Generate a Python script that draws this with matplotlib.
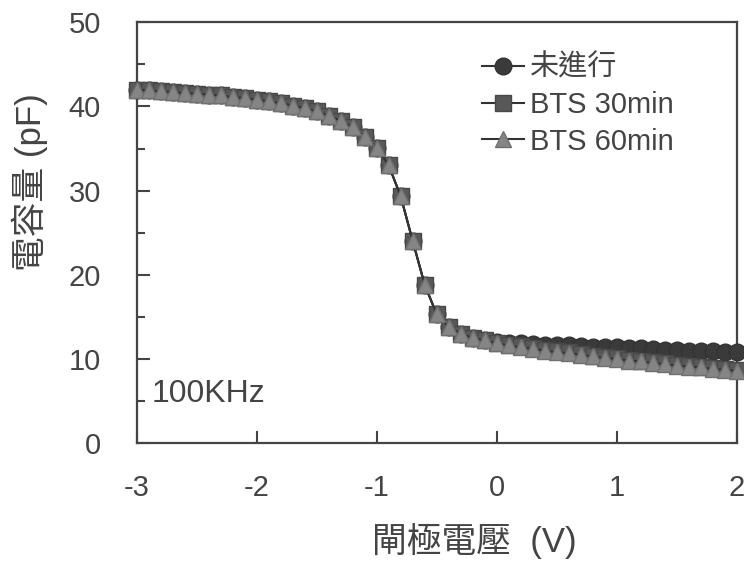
#!/usr/bin/env python3
import matplotlib
matplotlib.use("Agg")
import matplotlib.pyplot as plt
import numpy as np
from matplotlib.ticker import MultipleLocator

plt.rcParams['font.family'] = ['Liberation Sans', 'Noto Sans CJK TC', 'DejaVu Sans']
plt.rcParams['axes.unicode_minus'] = False

# gate voltage (V), 0.1 V step
vg = np.round(np.arange(-3.0, 2.0001, 0.1), 1)

# shared part of the C-V curve, -3.0 .. -0.1 V
c_common = [42.0, 41.9, 41.8, 41.7, 41.6, 41.5, 41.4, 41.3, 41.1, 41.0,
            40.8, 40.6, 40.4, 40.1, 39.8, 39.4, 38.9, 38.3, 37.5, 36.4,
            35.1, 33.0, 29.3, 24.0, 18.8, 15.3, 13.8, 13.0, 12.5, 12.2]

# 0.0 .. 2.0 V
c_fresh_tail = [12.0, 11.9, 11.85, 11.8, 11.7, 11.65, 11.6, 11.5, 11.45, 11.4,
                11.4, 11.3, 11.25, 11.2, 11.1, 11.1, 11.0, 11.0, 10.9, 10.85, 10.8]
c_bts30_tail = [11.9, 11.7, 11.5, 11.3, 11.1, 10.9, 10.8, 10.6, 10.4, 10.2,
                10.1, 9.9, 9.8, 9.6, 9.5, 9.3, 9.2, 9.1, 8.9, 8.8, 8.7]
c_bts60_tail = [11.85, 11.6, 11.4, 11.2, 11.0, 10.8, 10.7, 10.5, 10.3, 10.1,
                10.0, 9.8, 9.7, 9.5, 9.4, 9.2, 9.1, 9.0, 8.8, 8.7, 8.6]

c_fresh = c_common + c_fresh_tail
c_bts30 = c_common + c_bts30_tail
c_bts60 = c_common + c_bts60_tail

labels = ['未進行', 'BTS 30min', 'BTS 60min']
txt = '#444444'

fig = plt.figure(figsize=(7.44, 5.71), dpi=100)
ax = fig.add_axes([0.184, 0.224, 0.806, 0.737])

ax.plot(vg, c_fresh, '-o', color='#333333', mfc='#3a3a3a', mec='#333333',
        ms=12, lw=1.5, clip_on=False, label=labels[0], zorder=3)
ax.plot(vg, c_bts30, '-s', color='#333333', mfc='#585858', mec='#484848',
        ms=11.5, lw=1.5, clip_on=False, label=labels[1], zorder=4)
ax.plot(vg, c_bts60, '-^', color='#333333', mfc='#858585', mec='#707070',
        ms=11, lw=1.5, clip_on=False, label=labels[2], zorder=5)

ax.set_xlim(-3, 2)
ax.set_ylim(0, 50)
ax.xaxis.set_major_locator(MultipleLocator(1))
ax.yaxis.set_major_locator(MultipleLocator(10))
ax.yaxis.set_minor_locator(MultipleLocator(5))
ax.tick_params(axis='both', which='major', direction='in', length=9, width=1.5,
               color='#444444', labelsize=21, labelcolor=txt)
ax.tick_params(axis='y', which='minor', direction='in', length=6, width=1.5,
               color='#444444')
ax.tick_params(axis='x', pad=22)
ax.tick_params(axis='y', pad=26)
for s in ax.spines.values():
    s.set_linewidth(1.6)
    s.set_color('#444444')

ax.set_xlabel('閘極電壓  (V)', fontsize=25, color=txt)
ax.xaxis.set_label_coords(0.563, -0.19)
ax.set_ylabel('電容量 (pF)', fontsize=25, color=txt)
ax.yaxis.set_label_coords(-0.148, 0.62)

ax.text(0.025, 0.097, '100KHz', transform=ax.transAxes, fontsize=23, color=txt)

ax.legend(loc='upper left', bbox_to_anchor=(482 / 744, 1 - 54 / 571),
          bbox_transform=fig.transFigure, frameon=False, borderpad=0,
          borderaxespad=0, fontsize=21, numpoints=1, handlelength=1.45,
          handletextpad=0.2, labelspacing=0.3, labelcolor=txt)

fig.savefig('out.png', dpi=100)
